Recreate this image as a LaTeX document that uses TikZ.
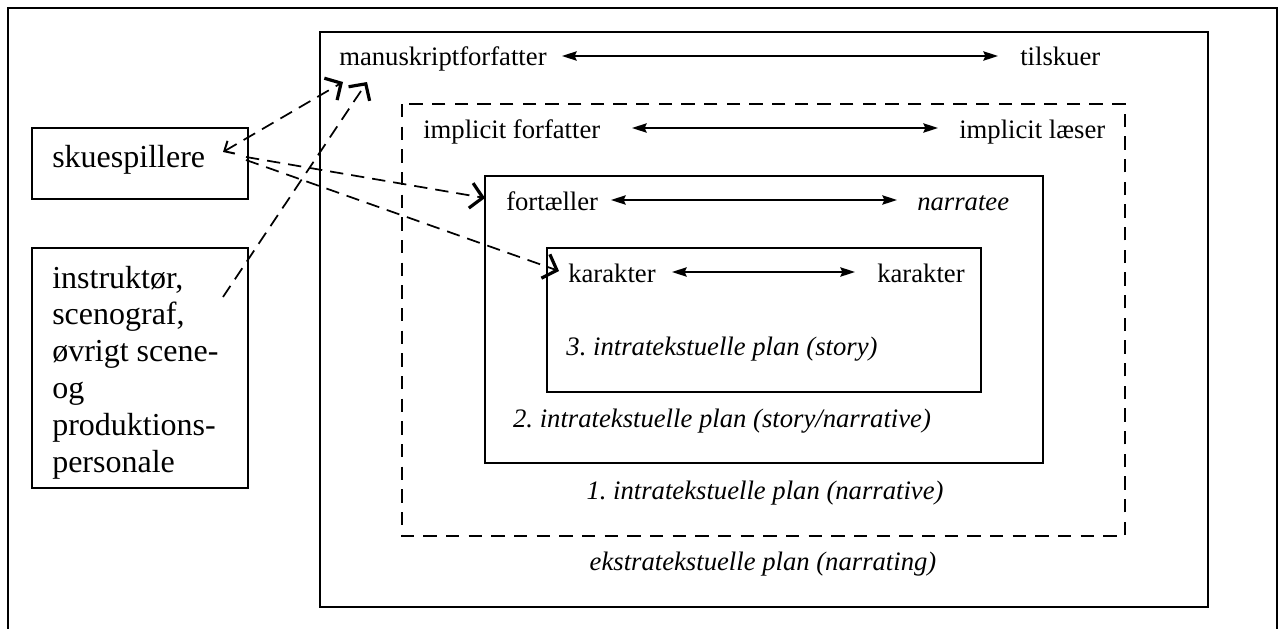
\documentclass[tikz,border=0pt]{standalone}
\usepackage{fontspec}
\setmainfont{Liberation Serif}
\usetikzlibrary{arrows.meta}
\frenchspacing
\begin{document}
\begin{tikzpicture}[x=0.75pt,y=-0.75pt,
  box/.style={draw, line width=1.5pt},
  dbox/.style={draw, line width=1.5pt, dash pattern=on 10pt off 7pt},
  txt/.style={anchor=base west, inner sep=0pt, font=\fontsize{20}{24}\selectfont},
  itxt/.style={anchor=base, inner sep=0pt, font=\fontsize{20}{24}\selectfont\itshape},
  ltxt/.style={anchor=base west, inner sep=0pt, font=\fontsize{24}{27.6}\selectfont, align=left},
  biarrow/.style={line width=1.4pt, {Stealth[length=11pt,width=7pt,inset=1.5pt]}-{Stealth[length=11pt,width=7pt,inset=1.5pt]}},
  darrow/.style={line width=1.3pt, dash pattern=on 10pt off 6pt},
  bighead/.tip={Straight Barb[length=9pt,width=19pt,line width=2.4pt]},
  smallhead/.tip={Straight Barb[length=6pt,width=11pt,line width=1.5pt]},
]
\useasboundingbox (0,0) rectangle (1284,628);
\begin{scope}
  \clip (0,0) rectangle (1284,628);
  \draw[line width=2.2pt] (8,8) rectangle (1277,650);
\end{scope}

% boxes
\draw[box] (320,32) rectangle (1208,607);
\draw[dbox] (402,104) rectangle (1125,536);
\draw[box] (485,176) rectangle (1043,463);
\draw[box] (547,248) rectangle (981,392);
\draw[box] (32,128) rectangle (248,199);
\draw[box] (32,248) rectangle (248,488);

% texts
\node[ltxt] (sk) at (52,167) {skuespillere};
\node[ltxt] (in) at (52,472) {instruktør,\\scenograf,\\øvrigt scene-\\og\\produktions-\\personale};

\node[txt] (ms) at (339,65) {manuskriptforfatter};
\node[txt] (ts) at (1020,65) {tilskuer};
\node[txt] (if) at (423,138) {implicit forfatter};
\node[txt] (il) at (959,138) {implicit læser};
\node[txt] (fo) at (506,210) {fortæller};
\node[txt,font=\fontsize{20}{24}\selectfont\itshape] (na) at (917,210) {narratee};
\node[txt] (k1) at (568,282) {karakter};
\node[txt] (k2) at (877,282) {karakter};

\node[itxt] (p3) at (722,355) {3. intratekstuelle plan (story)};
\node[itxt] (p2) at (722,427) {2. intratekstuelle plan (story/narrative)};
\node[itxt] (p1) at (765,499) {1. intratekstuelle plan (narrative)};
\node[itxt] (p0) at (763,570) {ekstratekstuelle plan (narrating)};

% solid double arrows
\coordinate (a1l) at (562,56); \coordinate (a1r) at (998,56);
\coordinate (a2l) at (632,128); \coordinate (a2r) at (938,128);
\coordinate (a3l) at (611,200); \coordinate (a3r) at (897,200);
\coordinate (a4l) at (672,272); \coordinate (a4r) at (855,272);
\draw[biarrow] (a1l) -- (a1r);
\draw[biarrow] (a2l) -- (a2r);
\draw[biarrow] (a3l) -- (a3r);
\draw[biarrow] (a4l) -- (a4r);

% dashed connectors
\coordinate (skA) at (223,152);
\coordinate (skB) at (246,157);
\coordinate (skC) at (246,160);
\coordinate (inA) at (223,297);
\coordinate (msA) at (343,82);
\coordinate (msB) at (367,82);
\coordinate (foA) at (485,198);
\coordinate (kaA) at (559,271);
\draw[darrow, {smallhead}-{bighead}] (skA) -- (msA);
\draw[darrow, -{bighead}] (inA) -- (msB);
\draw[darrow, -{bighead}] (skB) -- (foA);
\draw[darrow, -{bighead}] (skC) -- (kaA);
\end{tikzpicture}
\end{document}
